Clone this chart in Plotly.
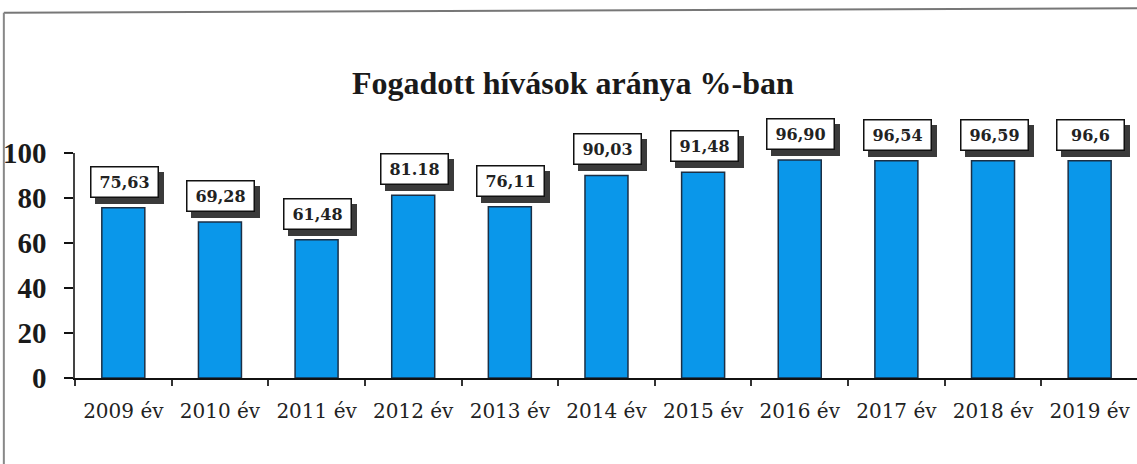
import plotly.graph_objects as go

categories = ["2009 év", "2010 év", "2011 év", "2012 év", "2013 év", "2014 év",
              "2015 év", "2016 év", "2017 év", "2018 év", "2019 év"]
values = [75.63, 69.28, 61.48, 81.18, 76.11, 90.03, 91.48, 96.90, 96.54, 96.59, 96.6]
labels = ["75,63", "69,28", "61,48", "81.18", "76,11", "90,03", "91,48",
          "96,90", "96,54", "96,59", "96,6"]
y_ticks = [0, 20, 40, 60, 80, 100]

TIMES = "Liberation Serif, Times New Roman, serif"
WIDE = "DejaVu Serif, serif"

fig = go.Figure()
fig.add_trace(go.Bar(
    x=categories, y=values,
    width=0.445,
    marker=dict(color="#0A97EA", line=dict(color="#1b2f45", width=1.5)),
    hoverinfo="skip",
))

annotations = []
for cat, v, lab in zip(categories, values, labels):
    # shadow box
    annotations.append(dict(
        x=cat, y=v, xref="x", yref="y", text=" ", showarrow=False,
        xanchor="center", yanchor="bottom", xshift=6, yshift=4,
        width=62, height=25, bgcolor="#3a3a3a", borderpad=2, borderwidth=1.5,
        bordercolor="#3a3a3a",
        font=dict(family=WIDE, size=16),
    ))
    # main box
    annotations.append(dict(
        x=cat, y=v, xref="x", yref="y", text=lab, showarrow=False,
        xanchor="center", yanchor="bottom", xshift=1, yshift=10,
        width=62, height=25, bgcolor="white", bordercolor="#111111",
        borderwidth=1.5, borderpad=2,
        font=dict(family=WIDE, size=16, color="#222222", weight="bold"),
    ))

annotations.append(dict(
    x=0.469, y=1.311, xref="paper", yref="paper", xanchor="center", yanchor="middle",
    text="<b>Fogadott hívások aránya %-ban</b>", showarrow=False,
    font=dict(family=TIMES, size=32, color="#1a1a1a"),
))

fig.update_layout(
    width=1137, height=464,
    margin=dict(l=75, r=0, t=153, b=86),
    paper_bgcolor="white", plot_bgcolor="white",
    showlegend=False,
    annotations=annotations,
    xaxis=dict(
        type="category", range=[-0.5, 10.49],
        showline=True, linecolor="#111111", linewidth=2,
        ticks="outside", tickson="boundaries", ticklen=6, tickwidth=1.5,
        tickcolor="#333333",
        showgrid=False, zeroline=False, ticklabelstandoff=14,
        tickfont=dict(family=WIDE, size=20, color="#222222"),
    ),
    yaxis=dict(
        range=[0, 100], tickvals=y_ticks,
        showline=True, linecolor="#444444", linewidth=1.5,
        ticks="outside", ticklen=9, tickwidth=2, tickcolor="#111111",
        showgrid=False, zeroline=False, ticklabelstandoff=12,
        tickfont=dict(family=TIMES, size=29, color="#1a1a1a", weight="bold"),
    ),
    shapes=[
        dict(type="line", xref="paper", yref="paper", x0=-0.067, x1=1.0, y0=1.6236, y1=1.643,
             line=dict(color="#777777", width=2)),
        dict(type="line", xref="paper", yref="paper", x0=-0.067, x1=-0.067, y0=1.6236, y1=-0.39,
             line=dict(color="#888888", width=2)),
    ],
)

fig.write_html("out.html", config={"displayModeBar": False},
               post_script="document.body.style.margin='0';")
